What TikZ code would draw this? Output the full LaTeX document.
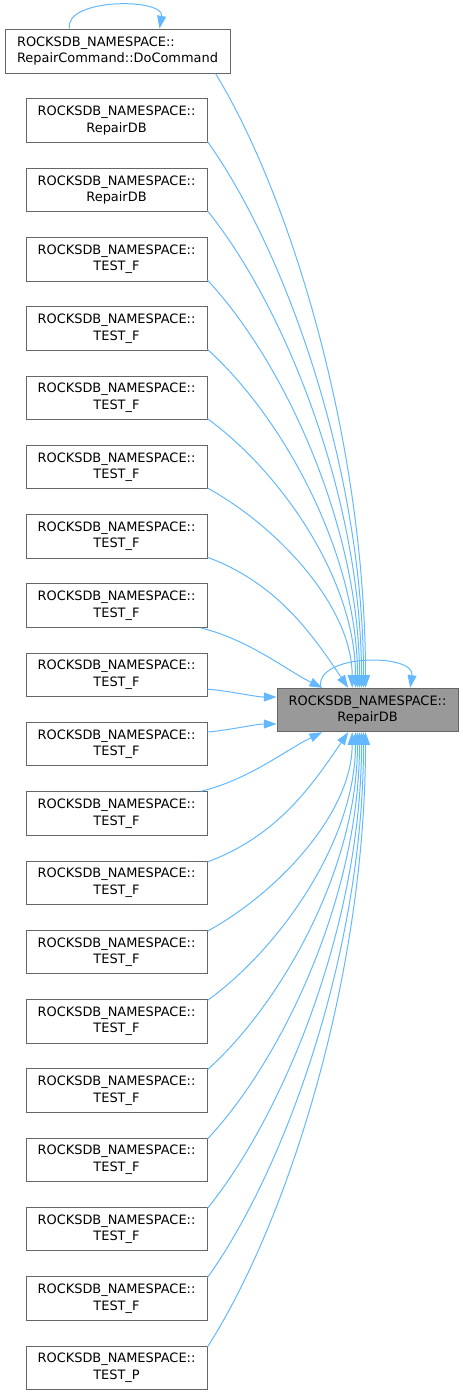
\documentclass[tikz,border=0pt]{standalone}
\usepackage{fontspec}
\setmainfont{DejaVu Sans}
\usetikzlibrary{arrows.meta,calc,positioning}

\definecolor{nodeborder}{HTML}{666666}
\definecolor{nodegrey}{HTML}{999999}
\definecolor{edgeblue}{HTML}{63B8FF}

\tikzset{
  fnbox/.style={draw=nodeborder, line width=0.75pt, fill=white, align=center,
    minimum width=135.75pt, minimum height=32.6pt, inner sep=2pt,
    font=\fontsize{9.7pt}{12.4pt}\selectfont},
  callee/.style={fnbox, fill=nodegrey},
  edge/.style={draw=edgeblue, line width=0.75pt, -{Triangle[length=9.5pt,width=6.75pt]}}
}

% caller -> callee spline
\newcommand\calledge[5]{%
  \draw[edge] let \p1=(#1), \p2=(#2) in (\p1)
    .. controls +({#3*(\x2-\x1)},{0.2*(\y2-\y1)}) and +({-#4*(\x2-\x1)},{-#5*(\y2-\y1)}) .. (\p2);}

\begin{document}
\begin{tikzpicture}[x=0.75pt, y=-0.75pt]
\useasboundingbox (0,0) rectangle (463,1397);

\node[fnbox, align=left, minimum width=168.75pt, minimum height=33pt] (D) at (117.5,51)
  {ROCKSDB\_NAMESPACE::\\RepairCommand::DoCommand};
\node[callee] (R) at (367.5,710) {ROCKSDB\_NAMESPACE::\\RepairDB};

\foreach \k/\lbl in {1/RepairDB, 2/RepairDB, 3/TEST\_F, 4/TEST\_F, 5/TEST\_F, 6/TEST\_F,
    7/TEST\_F, 8/TEST\_F, 9/TEST\_F, 10/TEST\_F, 11/TEST\_F, 12/TEST\_F, 13/TEST\_F,
    14/TEST\_F, 15/TEST\_F, 16/TEST\_F, 17/TEST\_F, 18/TEST\_F, 19/TEST\_P}
  \node[fnbox] (L\k) at (116.5,{120.7+69.28*(\k-1)}) {ROCKSDB\_NAMESPACE::\\\lbl};

% self calls
\draw[edge] ([xshift=48.75pt]D.north west) .. controls +(-4pt,23pt) and +(4pt,23pt) .. ([xshift=116.25pt]D.north west);
\draw[edge] ([xshift=-35pt]R.north) .. controls +(-5pt,26pt) and +(4pt,26pt) .. ([xshift=32pt]R.north);

% callers above
\calledge{[xshift=-11.25pt]D.south east}{[xshift=-1.5pt]R.north}{0.5}{0}{0.4}
\foreach \k/\o in {1/-3, 2/-4.5, 3/-6, 4/-7.5, 5/-9, 6/-11.5}
  {\calledge{[yshift=1pt]L\k.south east}{[xshift=\o pt]R.north}{0.5}{0}{0.4}}
\calledge{[yshift=1pt]L7.south east}{[xshift=-14.5pt]R.north}{0.5}{0.25}{0.4}
\calledge{[xshift=-5pt]L8.south east}{[xshift=-34pt]R.north}{0.4}{0.3}{0.3}

% callers beside
\calledge{[yshift=6pt]L9.south east}{[yshift=9.75pt]R.west}{0.3}{0.3}{0}
\calledge{[yshift=-7.5pt]L10.north east}{[yshift=-10.5pt]R.west}{0.3}{0.3}{0}

% callers below
\calledge{[xshift=-5pt]L11.north east}{[xshift=-34pt]R.south}{0.4}{0.3}{0.3}
\calledge{[yshift=-1pt]L12.north east}{[xshift=-14.5pt]R.south}{0.5}{0.25}{0.4}
\foreach \k/\o in {13/-11.5, 14/-9, 15/-7.5, 16/-6, 17/-4.5, 18/-3, 19/-1.5}
  {\calledge{[yshift=-1pt]L\k.north east}{[xshift=\o pt]R.south}{0.5}{0}{0.4}}
\end{tikzpicture}
\end{document}
